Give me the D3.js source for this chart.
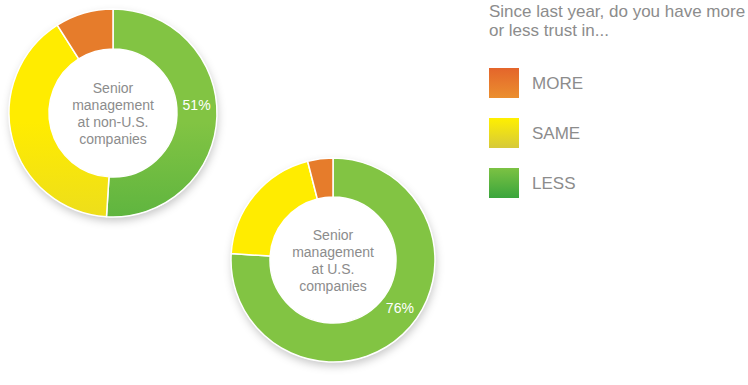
<!DOCTYPE html>
<html>
<head>
<meta charset="utf-8">
<script src="https://cdn.jsdelivr.net/npm/d3@7"></script>
<style>
  html, body { margin: 0; padding: 0; background: #fff; }
  svg { display: block; }
  text { font-family: "Liberation Sans", Arial, Helvetica, sans-serif; }
</style>
</head>
<body>
<svg id="chart" width="748" height="385"></svg>
<script>
// Survey answers, legend order
const categories = ["MORE", "SAME", "LESS"];
const nonUsValues = [9, 40, 51];
const usValues = [4, 20, 76];
const nonUsTitle = ["Senior", "management", "at non-U.S.", "companies"];
const usTitle = ["Senior", "management", "at U.S.", "companies"];
const questionLines = ["Since last year, do you have more", "or less trust in..."];

const W = 748, H = 385;
const svg = d3.select("#chart");
const defs = svg.append("defs");

// Colour stops (top -> bottom) for each answer
const palette = {
  MORE: ["#e67c2b", "#ea8e2f"],
  SAME: ["#ffec00", "#d8cd3c"],
  LESS: ["#82c443", "#36a33b"]
};
const swatchPalette = {
  MORE: ["#e4652b", "#eb8f2f"],
  SAME: ["#fff000", "#d6c93a"],
  LESS: ["#7cc243", "#3aa53c"]
};

const shadow = defs.append("filter").attr("id", "soft").attr("x", "-20%").attr("y", "-20%")
  .attr("width", "140%").attr("height", "140%");
shadow.append("feDropShadow").attr("dx", 1).attr("dy", 4).attr("stdDeviation", 4)
  .attr("flood-color", "#000").attr("flood-opacity", 0.22);

const donuts = [
  { id: "nonus", values: nonUsValues, title: nonUsTitle, cx: 113, cy: 113, rOut: 104, rIn: 64 },
  { id: "us", values: usValues, title: usTitle, cx: 333, cy: 260, rOut: 102, rIn: 63 }
];

// Slices run clockwise from 12 o'clock: LESS, SAME, MORE
const drawOrder = ["LESS", "SAME", "MORE"];

donuts.forEach(dn => {
  const byCat = new Map(categories.map((c, i) => [c, dn.values[i]]));
  const items = drawOrder.map(c => ({ cat: c, value: byCat.get(c) }));

  drawOrder.forEach(c => {
    const g = defs.append("linearGradient").attr("id", `g-${dn.id}-${c}`)
      .attr("gradientUnits", "userSpaceOnUse")
      .attr("x1", 0).attr("x2", 0).attr("y1", dn.cy - dn.rOut).attr("y2", dn.cy + dn.rOut);
    g.append("stop").attr("offset", "0%").attr("stop-color", palette[c][0]);
    g.append("stop").attr("offset", "100%").attr("stop-color", palette[c][1]);
  });

  const pie = d3.pie().sort(null).value(d => d.value);
  const arc = d3.arc().innerRadius(dn.rIn).outerRadius(dn.rOut);
  const arcs = pie(items);

  const g = svg.append("g").attr("transform", `translate(${dn.cx},${dn.cy})`);

  g.append("circle").attr("r", dn.rOut).attr("fill", "#fff").attr("filter", "url(#soft)");

  g.selectAll("path.slice").data(arcs).join("path")
    .attr("class", "slice")
    .attr("d", arc)
    .attr("fill", d => `url(#g-${dn.id}-${d.data.cat})`)
    .attr("stroke", "#fff")
    .attr("stroke-width", 1.5);

  // Percentage label on the LESS slice
  const less = arcs.find(a => a.data.cat === "LESS");
  const ang = less.startAngle + (less.endAngle - less.startAngle) * 0.46;
  const rMid = (dn.rIn + dn.rOut) / 2;
  g.append("text")
    .attr("x", Math.sin(ang) * rMid)
    .attr("y", -Math.cos(ang) * rMid)
    .attr("text-anchor", "middle")
    .attr("dominant-baseline", "central")
    .attr("fill", "#fff")
    .attr("font-size", 14)
    .text(less.data.value + "%");

  // Centre caption
  const lh = 17;
  const t = g.append("text").attr("text-anchor", "middle").attr("fill", "#8c8c8c").attr("font-size", 14);
  dn.title.forEach((line, i) => {
    t.append("tspan").attr("x", 0)
      .attr("y", (i - (dn.title.length - 1) / 2) * lh + 5)
      .text(line);
  });
});

// Legend
const lg = svg.append("g").attr("transform", "translate(489,0)");
const q = lg.append("text").attr("fill", "#8c8c8c").attr("font-size", 17);
questionLines.forEach((line, i) => {
  q.append("tspan").attr("x", 0).attr("y", 17 + i * 19).text(line);
});

categories.forEach((c, i) => {
  const gid = `lg-${c}`;
  const gr = defs.append("linearGradient").attr("id", gid).attr("x1", 0).attr("x2", 0).attr("y1", 0).attr("y2", 1);
  gr.append("stop").attr("offset", "0%").attr("stop-color", swatchPalette[c][0]);
  gr.append("stop").attr("offset", "100%").attr("stop-color", swatchPalette[c][1]);
  const row = lg.append("g").attr("transform", `translate(0,${68 + i * 50})`);
  row.append("rect").attr("width", 30).attr("height", 30).attr("fill", `url(#${gid})`);
  row.append("text").attr("x", 43).attr("y", 15)
    .attr("dominant-baseline", "central")
    .attr("fill", "#8c8c8c").attr("font-size", 17)
    .text(c);
});
</script>
</body>
</html>
